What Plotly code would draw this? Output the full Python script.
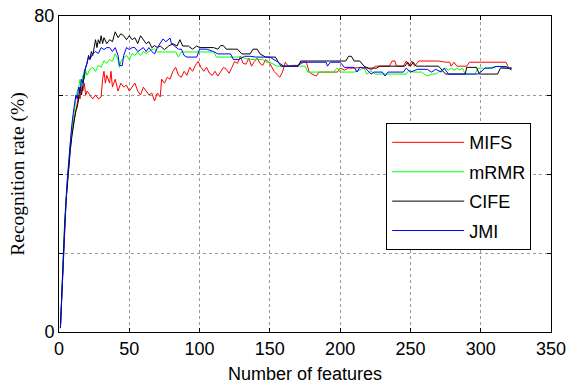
import plotly.graph_objects as go

# ---- data ----
mifs_x = [1,2,3,4,5,6,7,8,9,10,11,12,13,14,15,16,17,18,19,20,22,24,26,28,30,31,32,33,34,36,37,38,40,42,44,46,48,50,52,54,56,58,60,62,64,66,68,70,72,73,75,77,79,81,83,85,87,89,91,93,95,97,99,101,103,105,107,109,111,113,115,117,119,121,123,125,127,129,131,133,135,137,139,141,143,145,147,150,153,155,157,159,161,163,166,170,174,176,178,180,183,185,190,195,198,200,203,206,210,215,220,222,225,230,235,237,239,240,245,247,249,251,253,256,260,265,270,275,278,279,281,283,290,292,300,310,318,320,322]
mifs_y = [1,10,19,26,33,38,43,46,50,52,55,57,58,60,59,62,61,63,60,61,60,59,60,59,59.5,64,66,63,65,63,66,62,64,61,63,62,62.5,61,62,63,61,60,62,61,60,60.5,58.5,60.5,59.5,64,63,64.5,64,66,67,65,64.5,66,65,67,66,67.5,68.5,67,66,67,65.5,65,66,64.8,66,67,66.5,65.5,67,68.5,68,69.8,68,67.8,69.3,67.3,68.5,69.3,68,67.5,69,68,66,65.3,64.5,65.8,68.3,67.3,67.5,67.5,68.3,68.3,65.8,65.3,64.8,65.8,65.8,65.8,65.8,66.8,66.3,66.8,66.8,67,66.8,66.3,67.3,67.3,67.3,68.6,68.6,67.3,67.3,68.6,67.3,68.6,67.3,68.6,68.6,68.6,68.6,68.3,68.3,67.3,68.3,67.3,67.3,68.3,68.3,68.3,68.3,66.8,66.8]

mrmr_x = [1,2,3,4,5,6,7,8,9,10,11,12,13,14,15,16,17,18,19,20,22,24,26,28,30,32,34,36,38,40,42,43,44,46,48,50,52,54,56,58,60,62,64,66,68,70,75,80,83,85,87,95,100,105,110,112,120,130,135,140,145,148,150,155,160,170,175,177,185,195,198,200,205,210,217,219,222,225,240,247,249,252,258,262,265,268,270,273,275,277,279,281,283,285,287,289,296,298,305,312,318,322]
mrmr_y = [1,11,20,28,34,39,44,48,51,54,57,59,61,62,64,62,65,64,66,65,66.5,67,66,67.5,67,68.7,68,69,68.5,70.4,69,67,68.5,69.5,70,69,70.5,70,70.9,70,71,70.5,71,71.6,71.6,70.9,70.9,70.9,70.9,69.6,70.9,70.9,70.9,70.9,70.9,69.6,69.6,69.6,69,69,69,68.3,68.3,67.3,67.3,67.3,67.3,65.8,65.8,65.8,66.8,65.8,65.8,65.8,66.8,65.3,66,65.3,65.3,65.3,66.3,65.8,65.8,64.8,65.3,65.3,65.8,66.5,66.8,66.3,66.8,66.3,66.8,66.3,66.8,65.3,65.3,66.8,66.8,67.3,66.8,66.8]

cife_x = [1,2,3,4,5,6,7,8,9,10,11,12,13,14,15,16,17,18,19,20,21,22,23,24,25,26,27,28,29,30,31,32,34,36,38,40,42,44,46,48,50,52,54,56,58,60,62,64,66,68,70,72,75,78,81,84,86,88,92,95,98,100,105,110,113,115,117,119,125,127,130,134,136,138,141,143,147,150,154,156,158,165,170,172,180,190,200,204,206,208,210,214,217,220,226,228,240,246,248,250,252,254,260,270,275,285,289,290,297,299,305,312,314,322]
cife_y = [1,11,19,27,33,38,42,46,49,52,54,56,57,59,62,60,63,65,67,68,70,69,71,70,72,74,72,74,73,75,73,74.5,73,74,73.5,76,74.5,75.5,75,74,75,74,74.5,73,75,74,73,73.5,72,72.5,72,72.4,71.5,72.4,73,72.4,74,72.4,72.4,71.6,72.4,72,72,72,71.6,72.5,72.5,71.6,71.6,71.6,70.4,70.4,70.4,71.6,71.6,70.4,69.6,69.6,69.6,68.3,67.3,67.3,67.3,68.6,68.6,68.6,68.6,68.6,69.8,69.8,68.6,68.6,67.3,66.8,66.8,67.3,67.3,67.3,68.3,67.3,68.3,67.3,67.3,67.3,65.3,65.3,65.3,67,67,65.3,65.3,65.3,66.8,66.8]

jmi_x = [1,2,3,4,5,6,7,8,9,10,11,12,13,14,15,16,17,18,19,20,21,22,24,26,28,30,32,34,36,38,40,42,43,45,46,48,50,52,54,56,58,60,62,64,66,68,70,72,74,76,79,80,82,85,87,89,91,95,98,100,105,110,113,118,122,124,128,132,136,140,145,150,155,158,160,170,172,180,190,191,193,200,203,210,212,214,218,222,224,230,232,234,245,247,250,255,262,265,268,272,274,277,290,298,300,303,308,311,318,320,322]
jmi_y = [1,10,19,27,33,39,44,48,52,55,58,60,59,62,61,64,63,66,67,68.5,69.6,69,70.5,71,70.5,72,71.5,72,72,71,72,70,67.5,67.4,70,72,71.5,72,72,71,71.5,72,71,72,71,70.4,72,73,74.2,73.5,74.4,73,72.5,71.6,71.6,70,69.6,69.6,69.6,71.6,71.6,71,70.4,70.4,70.4,69,69,69.8,69.8,69.6,69.6,69.6,68.5,67.8,67.3,67.3,68.3,68.3,68.3,67.3,68.3,68.3,67,67,65.8,67,66.8,65.3,65.8,65.8,64.8,65.8,65.8,66.8,65.8,66.5,66.5,65.8,66.5,65.8,66.8,65.3,65.3,65.3,65.8,66.8,66.8,67.2,67.2,66.8,66.3]

series = [
    ("MIFS", mifs_x, mifs_y, "#ff0000"),
    ("mRMR", mrmr_x, mrmr_y, "#00ff00"),
    ("CIFE", cife_x, cife_y, "#000000"),
    ("JMI", jmi_x, jmi_y, "#0000ff"),
]

x_ticks = [0, 50, 100, 150, 200, 250, 300, 350]
y_ticks = [0, 20, 40, 60, 80]
y_ticktext = ["0", "", "", "", "80"]

fig = go.Figure()
for name, xs, ys, col in series:
    fig.add_trace(go.Scatter(x=xs, y=ys, mode="lines", name=name,
                             legendgroup=name,
                             line=dict(color=col, width=1)))

font_sans = "Arial, Liberation Sans, sans-serif"
fig.update_layout(
    width=566, height=388,
    margin=dict(l=59, r=15, t=16, b=56),
    paper_bgcolor="white", plot_bgcolor="white",
    font=dict(family=font_sans, color="black", size=18),
    legend=dict(x=0.665, y=0.661, xanchor="left", yanchor="top",
                bgcolor="white", bordercolor="black", borderwidth=1,
                font=dict(size=18, family=font_sans),
                tracegroupgap=3, itemwidth=72),
    showlegend=True,
)
fig.update_xaxes(range=[0, 350], tickvals=x_ticks, ticks="inside", ticklen=4,
                 tickcolor="black", showline=True, linecolor="black", linewidth=1,
                 mirror="ticks", showgrid=True, gridcolor="#9a9a9a", griddash="dot",
                 gridwidth=1, zeroline=False, tickfont=dict(size=18), automargin=False,
                 ticklabeloverflow="allow",
                 title=dict(text="Number of features", font=dict(size=18), standoff=9))
fig.update_yaxes(range=[0, 80], tickvals=y_ticks, ticktext=y_ticktext, ticks="inside",
                 ticklen=4, tickcolor="black", showline=True, linecolor="black",
                 linewidth=1, mirror="ticks", showgrid=True, gridcolor="#9a9a9a",
                 griddash="dot", gridwidth=1, zeroline=False, tickfont=dict(size=18),
                 automargin=False, ticklabeloverflow="allow",
                 title=dict(text="Recognition rate (%)",
                            font=dict(size=19.5, family="Times New Roman, Liberation Serif, serif"),
                            standoff=4))

fig.write_html("out.html", post_script="document.body.style.margin='0';",
               config={"displayModeBar": False})
